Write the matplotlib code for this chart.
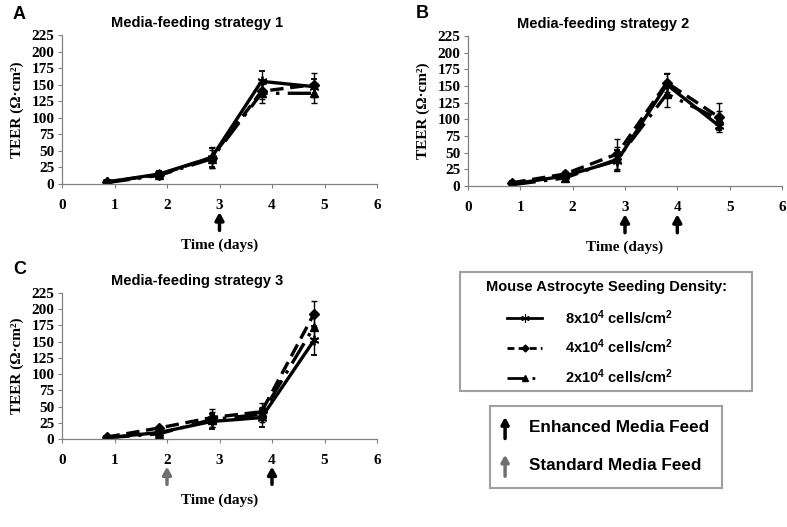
import matplotlib
matplotlib.use("Agg")
import matplotlib.pyplot as plt
from matplotlib.lines import Line2D
from matplotlib.patches import Rectangle
import matplotlib.transforms as mtransforms

plt.rcParams["mathtext.default"] = "regular"

# ---------------- data ----------------
days = [0.85, 1.85, 2.85, 3.8, 4.8]
series_labels = ["8x10$^{4}$ cells/cm$^{2}$", "4x10$^{4}$ cells/cm$^{2}$", "2x10$^{4}$ cells/cm$^{2}$"]

# Panel A (strategy 1)
a_8 = [3, 15, 40, 155, 147]
a_8_err = [3, 4, 15, 15, 12]
a_4 = [3, 14, 40, 140, 150]
a_4_err = [2, 4, 16, 12, 18]
a_2 = [2, 13, 38, 137, 137]
a_2_err = [2, 3, 14, 14, 15]

# Panel B (strategy 2)
b_8 = [3, 15, 38, 152, 90]
b_8_err = [5, 4, 16, 16, 6]
b_4 = [5, 18, 48, 155, 103]
b_4_err = [3, 4, 22, 14, 22]
b_2 = [2, 12, 40, 138, 100]
b_2_err = [2, 4, 18, 20, 12]

# Panel C (strategy 3)
c_8 = [2, 10, 27, 33, 152]
c_8_err = [2, 3, 12, 14, 22]
c_4 = [3, 17, 33, 42, 193]
c_4_err = [2, 3, 14, 13, 20]
c_2 = [2, 8, 30, 38, 173]
c_2_err = [2, 3, 12, 12, 18]

x_ticks = [0, 1, 2, 3, 4, 5, 6]
y_ticks = [0, 25, 50, 75, 100, 125, 150, 175, 200, 225]

titles = ["Media-feeding strategy 1", "Media-feeding strategy 2", "Media-feeding strategy 3"]
panel_letters = ["A", "B", "C"]
enhanced_feeds = [[3], [3, 4], [4]]
standard_feeds = [[], [], [2]]
legend_title = "Mouse Astrocyte Seeding Density:"
feed_labels = ["Enhanced Media Feed", "Standard Media Feed"]

# ---------------- styling ----------------
SANS = ["Liberation Sans", "DejaVu Sans"]
SERIF = ["Liberation Serif", "DejaVu Serif"]
styles = [
    dict(linestyle="-", marker=(6, 2, 0), markersize=7, markeredgewidth=1.3),
    dict(linestyle=(0, (4, 2)), marker="D", markersize=5),
    dict(linestyle=(0, (7, 2.5, 1, 2.5)), marker="^", markersize=6),
]
leg_styles = [
    dict(linestyle="-", marker=(6, 2, 0), markersize=6, markeredgewidth=0.8),
    dict(linestyle=(0, (2.5, 1.5)), marker="D", markersize=3.5),
    dict(linestyle=(0, (6, 3, 1, 3)), marker="^", markersize=5),
]

fig = plt.figure(figsize=(7.87, 5.27), dpi=100)

W, H = 787.0, 527.0
def frac_box(l, r, b, t):
    return [l / W, 1 - b / H, (r - l) / W, (b - t) / H]

axes_boxes = [frac_box(62, 377, 184, 35), frac_box(468, 782, 186, 36), frac_box(62, 377, 439, 293)]
data = [
    [(a_8, a_8_err), (a_4, a_4_err), (a_2, a_2_err)],
    [(b_8, b_8_err), (b_4, b_4_err), (b_2, b_2_err)],
    [(c_8, c_8_err), (c_4, c_4_err), (c_2, c_2_err)],
]
letter_pos = [(13, 19), (416, 18), (13, 274)]

handles = []
for i, box in enumerate(axes_boxes):
    ax = fig.add_axes(box)
    for j, (vals, errs) in enumerate(data[i]):
        ax.errorbar(days, vals, yerr=errs, color="black", ecolor="black",
                    elinewidth=1.0, capsize=2.5, capthick=1.0, linewidth=2.4,
                    markerfacecolor="black", markeredgecolor="black",
                    **styles[j])
        if i == 0:
            handles.append(Line2D([], [], color="black", linewidth=2.0,
                                  markerfacecolor="black", markeredgecolor="black",
                                  **leg_styles[j]))
    ax.set_xlim(0, 6)
    ax.set_ylim(0, 225)
    ax.set_xticks(x_ticks)
    ax.set_yticks(y_ticks)
    ax.set_xticklabels([str(t) for t in x_ticks], fontfamily=SERIF, fontweight="bold", fontsize=11)
    ax.set_yticklabels([str(t) for t in y_ticks], fontfamily=SERIF, fontweight="bold", fontsize=11)
    ax.tick_params(axis="both", direction="out", length=3, width=0.8, color="#808080")
    ax.tick_params(axis="x", pad=8)
    ax.tick_params(axis="y", pad=2.5)
    for s in ["top", "right"]:
        ax.spines[s].set_visible(False)
    for s in ["left", "bottom"]:
        ax.spines[s].set_color("#808080")
        ax.spines[s].set_linewidth(0.9)
    ax.set_ylabel("TEER (\u03a9\u00b7cm\u00b2)", fontfamily=SERIF, fontweight="bold", fontsize=11, labelpad=5)
    ax.set_xlabel("Time (days)", fontfamily=SERIF, fontweight="bold", fontsize=11, labelpad=19)
    ax.set_title(titles[i], fontfamily=SANS, fontweight="bold", fontsize=10.5, pad=6, x=0.43)

    trans = mtransforms.blended_transform_factory(ax.transData, ax.transAxes)
    for d, col in [(d, "black") for d in enhanced_feeds[i]] + [(d, "#707070") for d in standard_feeds[i]]:
        ax.annotate("", xy=(d, -0.17), xytext=(d, -0.33), xycoords=trans, textcoords=trans,
                    arrowprops=dict(arrowstyle="-|>,head_width=0.25,head_length=0.45",
                                    color=col, lw=2.5), annotation_clip=False)

    lx, ly = letter_pos[i]
    fig.text(lx / W, 1 - ly / H, panel_letters[i], fontfamily=SANS, fontweight="bold",
             fontsize=13, va="baseline", ha="left")

# ---------------- legend 1 ----------------
fig.patches.append(Rectangle((460 / W, 1 - 391 / H), 292 / W, 119 / H, transform=fig.transFigure,
                             fill=False, edgecolor="#a0a0a0", linewidth=1.5))
fig.text(606 / W, 1 - 287 / H, legend_title, fontfamily=SANS, fontweight="bold", fontsize=10.5,
         ha="center", va="center")
leg = fig.legend(handles, series_labels, loc="upper left", bbox_to_anchor=(507 / W, 1 - 308 / H),
                 frameon=False, prop=dict(family=SANS, weight="bold", size=10.5),
                 handlelength=2.4, handletextpad=1.6, labelspacing=0.75,
                 borderpad=0, borderaxespad=0)

# ---------------- legend 2 (feed arrows) ----------------
lax = fig.add_axes(frac_box(490, 722, 488, 406))
lax.set_xlim(0, 1)
lax.set_ylim(0, 1)
lax.set_xticks([])
lax.set_yticks([])
for s in lax.spines.values():
    s.set_color("#a0a0a0")
    s.set_linewidth(1.5)
feed_colors = ["black", "#707070"]
feed_y = [0.74, 0.28]
for lab, col, yy in zip(feed_labels, feed_colors, feed_y):
    lax.annotate("", xy=(0.065, yy + 0.16), xytext=(0.065, yy - 0.17),
                 arrowprops=dict(arrowstyle="-|>,head_width=0.22,head_length=0.4", color=col, lw=2.5))
    lax.text(0.17, yy, lab, fontfamily=SANS, fontweight="bold", fontsize=12.3, va="center", ha="left")

fig.savefig("out.png", dpi=100)
